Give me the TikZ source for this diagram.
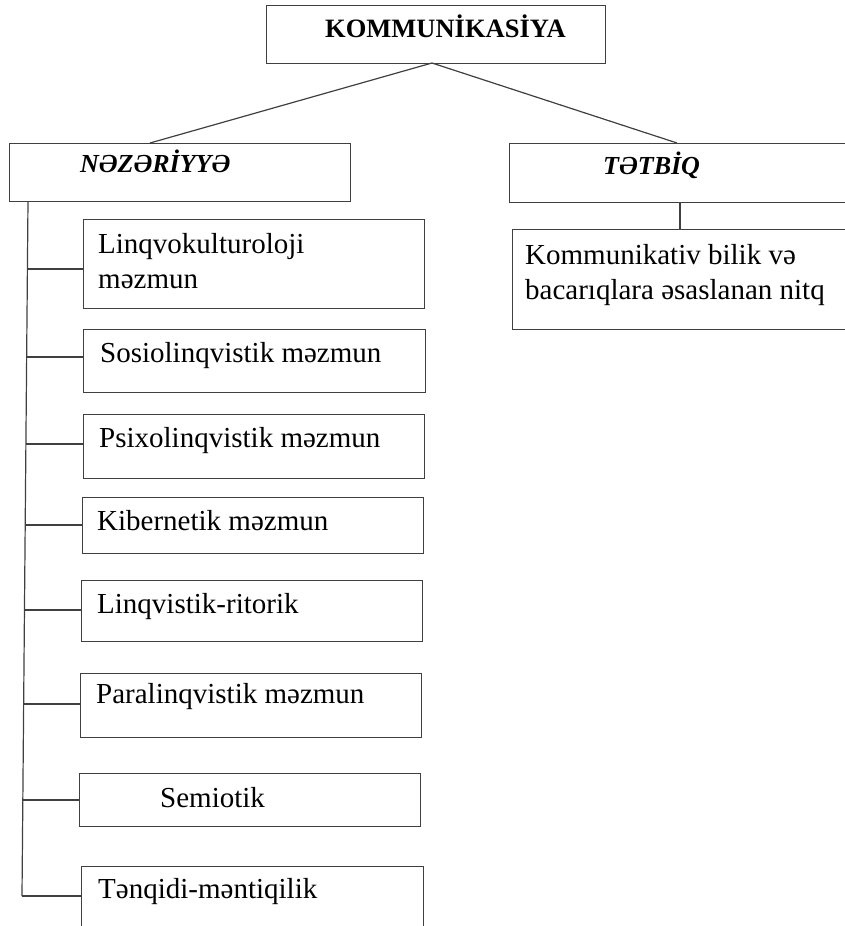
\documentclass[tikz,border=0pt]{standalone}
\usepackage{fontspec}
\setmainfont{Liberation Serif}
\usetikzlibrary{calc}
\begin{document}
\begin{tikzpicture}[x=1pt,y=-1pt,
  box/.style={draw=black!75, line width=1.2pt, rectangle, inner sep=0pt, anchor=north west},
  txt/.style={anchor=base west, inner sep=0pt, font=\fontsize{29}{32}\selectfont},
  head/.style={anchor=base west, inner sep=0pt, font=\fontsize{26}{30}\selectfont\bfseries\itshape},
  link/.style={draw=black!75, line width=1.2pt}]
\useasboundingbox (0,0) rectangle (845,926);
% top
\node[box, minimum width=339pt, minimum height=58pt] (top) at (266,5) {};
\node[anchor=base west, inner sep=0pt, font=\fontsize{26.5}{30}\selectfont\bfseries] (toptxt) at (325,37) {KOMMUNİKASİYA};
% second level
\node[box, minimum width=341pt, minimum height=58pt] (nez) at (9,143) {};
\node[head] (neztxt) at (80,172) {NƏZƏRİYYƏ};
\node[box, minimum width=345pt, minimum height=59pt] (tet) at (509,143) {};
\node[head] (tettxt) at (603,174) {TƏTBİQ};
\coordinate (apex) at (432,63);
\coordinate (nezin) at (150,143);
\coordinate (tetin) at (677,143);
\draw[link] (nezin) -- (apex) -- (tetin);
% right branch
\node[box, minimum width=345pt, minimum height=100pt] (kom) at (512,229) {};
\coordinate (tetout) at (680,202);
\coordinate (komin) at (680,229);
\draw[link] (tetout) -- (komin);
\node[txt] (kom1) at (525,264) {Kommunikativ bilik və};
\node[txt] (kom2) at (525,299) {bacarıqlara əsaslanan nitq};
% left branch boxes
\node[box, minimum width=341pt, minimum height=89pt] (b1) at (83,219) {};
\node[txt] (t1a) at (98,253) {Linqvokulturoloji};
\node[txt] (t1b) at (98,288) {məzmun};
\node[box, minimum width=342pt, minimum height=63pt] (b2) at (83,329) {};
\node[txt] (t2) at (100,362) {Sosiolinqvistik məzmun};
\node[box, minimum width=341pt, minimum height=64pt] (b3) at (83,414) {};
\node[txt] (t3) at (99,447) {Psixolinqvistik məzmun};
\node[box, minimum width=341pt, minimum height=56pt] (b4) at (82,497) {};
\node[txt] (t4) at (97,530) {Kibernetik məzmun};
\node[box, minimum width=341pt, minimum height=61pt] (b5) at (81,580) {};
\node[txt] (t5) at (97,613) {Linqvistik-ritorik};
\node[box, minimum width=341pt, minimum height=64pt] (b6) at (80,673) {};
\node[txt] (t6) at (96,703) {Paralinqvistik məzmun};
\node[box, minimum width=341pt, minimum height=53pt] (b7) at (79,773) {};
\node[txt] (t7) at (160,807) {Semiotik};
\node[box, minimum width=342pt, minimum height=80pt] (b8) at (81,866) {};
\node[txt] (t8) at (98,898) {Tənqidi-məntiqilik};
% trunk
\coordinate (trtop) at (28,201);
\coordinate (trbot) at (22,896);
\draw[link] (trtop) -- (trbot);
\foreach \b/\y in {b1/269,b2/357,b3/444,b4/525,b5/610,b6/704,b7/800,b8/896}{
  \pgfmathsetmacro{\frac}{(\y-201)/695}
  \coordinate (j\b) at ($(trtop)!\frac!(trbot)$);
  \draw[link] (j\b) -- (j\b -| \b.west);
}
\end{tikzpicture}
\end{document}
